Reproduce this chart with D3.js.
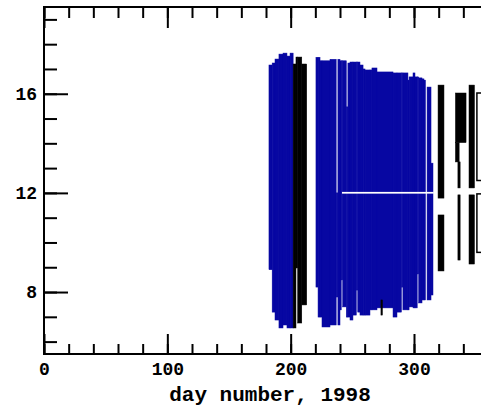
<!DOCTYPE html>
<html>
<head>
<meta charset="utf-8">
<script src="https://cdn.jsdelivr.net/npm/d3@7"></script>
<style>
  body { margin: 0; background: #fff; }
  svg { display: block; }
  text { font-family: "Liberation Mono", "DejaVu Sans Mono", monospace; font-weight: bold; fill: #000; }
</style>
</head>
<body>
<script>
var width = 481;
var height = 411;

// blue coverage runs: start day, end day, low hour, high hour
var blueStart = [182.4, 185, 187.3, 190.5, 193.8, 197, 199.5,
  220.5, 222.2, 223.8, 225.4, 231.9, 236.9, 238.3, 240, 241.0, 242.2, 245.1, 246.4, 248.1, 250.5, 253.2,
  254.4, 256.2, 258.7, 260.3, 264.3, 265.9, 270, 283, 286.2, 289.8, 291.0, 295.1, 296, 299.2, 300.8,
  302.6, 303.8, 306.5, 308.1, 310.6, 313.8];
var blueEnd = [185, 187.3, 190.5, 193.8, 197, 199.5, 202,
  222.2, 223.8, 225.4, 231.9, 236.9, 238.3, 240, 241.0, 242.2, 245.1, 246.4, 248.1, 250.5, 253.2, 254.4,
  256.2, 258.7, 260.3, 264.3, 265.9, 270, 283, 286.2, 289.8, 291.0, 295.1, 296, 299.2, 300.8, 302.6,
  303.8, 306.5, 308.1, 309.3, 313.8, 315.4];
var blueLo = [8.9, 7.19, 6.87, 6.55, 6.67, 6.55, 6.55,
  8.2, 6.99, 6.99, 6.59, 6.67, 7.8, 6.67, 7.28, 8.49, 7.40, 6.99, 6.99, 6.87, 7.07, 8.08,
  7.19, 7.07, 7.07, 7.07, 7.28, 7.28, 7.36, 6.99, 7.19, 8.2, 7.28, 7.28, 7.40, 7.36, 7.36,
  8.73, 7.56, 7.68, 7.68, 7.68, 7.88];
var blueHi = [17.16, 17.24, 17.4, 17.6, 17.64, 17.52, 17.64,
  17.47, 17.47, 17.33, 17.33, 17.39, 12.0, 17.39, 17.33, 17.33, 17.33, 15.47, 17.24, 17.28, 17.28, 17.28,
  17.28, 17.16, 17.0, 16.96, 16.96, 17.04, 16.88, 16.84, 16.84, 16.84, 16.84, 16.55, 16.68, 16.84, 16.68,
  16.68, 16.64, 16.60, 16.55, 16.27, 13.2];

// gap in the blue coverage near noon
var splitFrom = 241.6;
var splitTo = 316;
var splitLo = 11.97;
var splitHi = 12.04;

// black coverage runs
var blackStart = [202, 204.3, 205.7, 209, 273.2, 319.5, 319.5, 333.6, 333.6, 335.6, 335.6, 344.6, 344.6];
var blackEnd = [204.3, 205.7, 209, 213, 274.4, 324.3, 324.3, 342.2, 336.6, 337.4, 337.4, 349, 349];
var blackLo = [6.55, 8.97, 6.75, 7.48, 7.07, 11.79, 8.85, 14.03, 13.25, 12.2, 9.29, 12.2, 9.13];
var blackHi = [17.2, 17.48, 17.48, 17.2, 7.68, 16.35, 11.11, 16.03, 14.03, 13.25, 11.92, 16.35, 11.92];

// outlined boxes running off the right edge
var boxStart = [351, 351];
var boxEnd = [380, 380];
var boxLo = [12.5, 9.6];
var boxHi = [16.03, 11.96];

var xTicksMajor = [0, 100, 200, 300];
var xTicksMinor = d3.range(0, 361, 20);
var yTicksMajor = [8, 12, 16];
var yTicksMinor = d3.range(6, 20, 1);

var x = d3.scaleLinear().domain([0, 366]).range([44, 495.4]);
var y = d3.scaleLinear().domain([5.5, 19.5]).range([354, 7]);

var svg = d3.select("body").append("svg")
  .attr("width", width)
  .attr("height", height);

function runs(s, e, lo, hi) {
  return d3.range(s.length).map(function(i) {
    return {d0: s[i], d1: e[i], lo: lo[i], hi: hi[i]};
  });
}
var blue = runs(blueStart, blueEnd, blueLo, blueHi);
var black = runs(blackStart, blackEnd, blackLo, blackHi);
var boxes = runs(boxStart, boxEnd, boxLo, boxHi);

function drawRuns(data, colour) {
  svg.append("g").selectAll("rect")
    .data(data)
    .enter()
    .append("rect")
    .attr("x", function(d) { return x(d.d0); })
    .attr("width", function(d) { return x(d.d1) - x(d.d0); })
    .attr("y", function(d) { return y(d.hi); })
    .attr("height", function(d) { return y(d.lo) - y(d.hi); })
    .attr("fill", colour)
    .attr("stroke", colour)
    .attr("stroke-width", 0.5);
}

drawRuns(blue, "#0707a2");

svg.append("rect")
  .attr("x", x(splitFrom))
  .attr("width", x(splitTo) - x(splitFrom))
  .attr("y", y(splitHi))
  .attr("height", y(splitLo) - y(splitHi))
  .attr("fill", "#fff");

drawRuns(black, "#000");

svg.append("g").selectAll("rect")
  .data(boxes)
  .enter()
  .append("rect")
  .attr("x", function(d) { return x(d.d0); })
  .attr("width", function(d) { return x(d.d1) - x(d.d0); })
  .attr("y", function(d) { return y(d.hi); })
  .attr("height", function(d) { return y(d.lo) - y(d.hi); })
  .attr("fill", "none")
  .attr("stroke", "#000")
  .attr("stroke-width", 1.5);

// axes, ticks pointing inward
function styleAxis(g) {
  g.select(".domain").remove();
  g.selectAll(".tick line").attr("stroke", "#000").attr("stroke-width", 2);
  g.selectAll(".tick text").style("font-size", "18px");
}

svg.append("g")
  .attr("transform", "translate(0," + y(5.5) + ")")
  .call(d3.axisBottom(x).tickValues(xTicksMinor).tickSize(-10).tickFormat(""))
  .call(styleAxis);
svg.append("g")
  .attr("transform", "translate(0," + y(5.5) + ")")
  .call(d3.axisBottom(x).tickValues(xTicksMajor).tickSize(-20).tickPadding(8).tickFormat(d3.format("d")))
  .call(styleAxis);
svg.append("g")
  .attr("transform", "translate(0," + y(19.5) + ")")
  .call(d3.axisTop(x).tickValues(xTicksMinor).tickSize(-11).tickFormat(""))
  .call(styleAxis);
svg.append("g")
  .attr("transform", "translate(0," + y(19.5) + ")")
  .call(d3.axisTop(x).tickValues(xTicksMajor).tickSize(-21).tickFormat(""))
  .call(styleAxis);
svg.append("g")
  .attr("transform", "translate(" + x(0) + ",0)")
  .call(d3.axisLeft(y).tickValues(yTicksMinor).tickSize(-13).tickFormat(""))
  .call(styleAxis);
svg.append("g")
  .attr("transform", "translate(" + x(0) + ",0)")
  .call(d3.axisLeft(y).tickValues(yTicksMajor).tickSize(-24).tickPadding(7).tickFormat(d3.format("d")))
  .call(styleAxis);

// frame
svg.append("path")
  .attr("d", "M" + width + "," + y(19.5) + "H" + x(0) + "V" + y(5.5) + "H" + width)
  .attr("fill", "none")
  .attr("stroke", "#000")
  .attr("stroke-width", 2);

svg.append("text")
  .attr("x", 270)
  .attr("y", 401)
  .attr("text-anchor", "middle")
  .style("font-size", "21px")
  .text("day number, 1998");
</script>
</body>
</html>
